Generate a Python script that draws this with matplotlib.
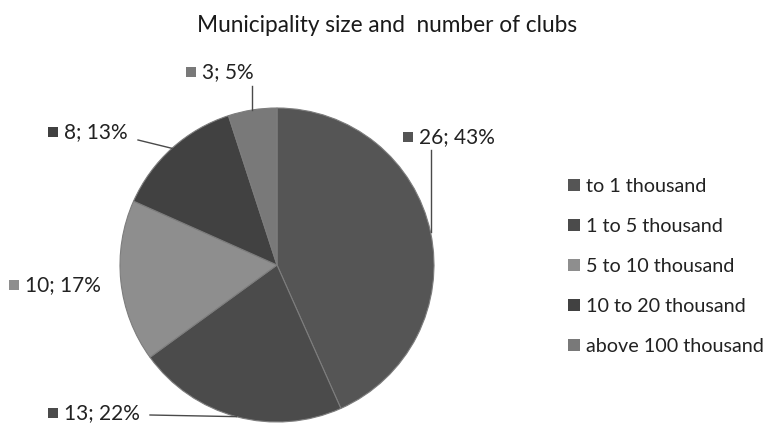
import numpy as np
import matplotlib
matplotlib.use("Agg")
import matplotlib.pyplot as plt
from matplotlib.lines import Line2D

plt.rcParams["font.family"] = ["Lato", "DejaVu Sans"]

# Clubs per municipality size class
categories = ["to 1 thousand", "1 to 5 thousand", "5 to 10 thousand",
              "10 to 20 thousand", "above 100 thousand"]
clubs = [26, 13, 10, 8, 3]
colors = ["#555555", "#4b4b4b", "#8e8e8e", "#414141", "#797979"]

W, H = 775, 426
fig = plt.figure(figsize=(W / 100, H / 100), dpi=100)
ax = fig.add_axes([0, 0, 1, 1])

center = (277, H - 265)
radius = 157
wedges, _ = ax.pie(clubs, colors=colors, startangle=90, counterclock=False,
                   center=center, radius=radius, frame=True,
                   wedgeprops=dict(edgecolor="#7d7d7d", linewidth=0.8))
ax.set_xlim(0, W)
ax.set_ylim(0, H)
ax.set_aspect("equal")
ax.axis("off")

fig.text(387 / W, 1 - 26 / H, "Municipality size and  number of clubs",
         ha="center", va="center", fontsize=16.3, color="#1a1a1a")

# data-label layout: square marker position, and where the leader starts
label_pos = [(408, 137), (53, 413), (14, 285), (53, 132), (191, 72)]
leader_start = [(431, 150), (150, 415), None, (138, 140), (251, 86)]

total = sum(clubs)
for i, (n, w) in enumerate(zip(clubs, wedges)):
    pct = round(100 * n / total)
    sx, sy = label_pos[i]
    ax.plot(sx, H - sy, marker="s", markersize=7.5, color=colors[i],
            markeredgewidth=0)
    ax.text(sx + 11, H - sy, f"{n}; {pct}%", ha="left", va="center",
            fontsize=15, color="#222222")
    if leader_start[i] is not None:
        theta = np.deg2rad((w.theta1 + w.theta2) / 2)
        ex = center[0] + radius * np.cos(theta)
        ey = center[1] + radius * np.sin(theta)
        lx, ly = leader_start[i]
        if i in (0, 4):
            ax.plot([ex, ex], [H - ly, ey], color="#4a4a4a", lw=1.0)
        else:
            ax.plot([lx, ex], [H - ly, ey], color="#4a4a4a", lw=1.0)

handles = [Line2D([], [], marker="s", linestyle="none", markersize=8,
                  markeredgewidth=0, color=c) for c in colors]
fig.legend(handles, categories, loc="upper left",
           bbox_to_anchor=(561 / W, 1 - 170 / H), frameon=False,
           fontsize=14.2, labelspacing=1.17, handlelength=0.55,
           handletextpad=0.3, borderaxespad=0, labelcolor="#222222")

fig.savefig("out.png", dpi=100, facecolor="white")
